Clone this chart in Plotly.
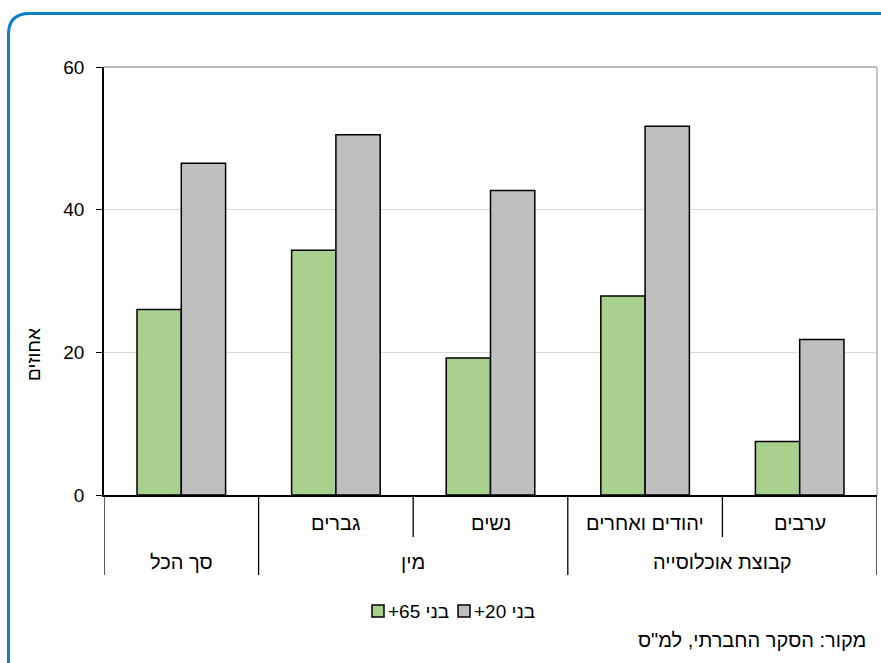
import plotly.graph_objects as go

# Survey results: share (%) by population group, two age bases
categories = ["סך הכל", "גברים", "נשים", "יהודים ואחרים", "ערבים"]
sub_labels = ["", "גברים", "נשים", "יהודים ואחרים", "ערבים"]
group_labels = ["סך הכל", "מין", "קבוצת אוכלוסייה"]
group_centers = [0, 1.5, 3.5]

series_names = ["בני 65+", "בני 20+"]
age65 = [26.0, 34.3, 19.2, 27.9, 7.5]
age20 = [46.5, 50.5, 42.7, 51.7, 21.8]

y_ticks = [0, 20, 40, 60]
y_title = "אחוזים"
source_note = "מקור: הסקר החברתי, למ\"ס"

RLM = "\u200F"
FONT = "Liberation Sans, Arial, sans-serif"
GREEN = "#a9d18e"
GREY = "#bfbfbf"
colors = [GREEN, GREY]

# plot-area geometry in pixels (used to place items below the axis)
W, H = 881, 663
L, R, T, B = 104, 877, 67, 495


def yp(py):
    return (B - py) / (B - T)


def xp(px):
    return (px - L) / (R - L)


fig = go.Figure()
for name, vals, col in zip(series_names, [age65, age20], colors):
    fig.add_trace(go.Bar(
        x=list(range(len(categories))), y=vals, name=name + RLM,
        marker=dict(color=col, line=dict(color="#000000", width=1.5)),
        hovertext=categories, showlegend=False,
    ))

shapes = []
# plot frame: grey top and right edges
shapes.append(dict(type="line", xref="paper", yref="paper", x0=0, x1=1, y0=1, y1=1,
                   line=dict(color="#a6a6a6", width=1.3)))
shapes.append(dict(type="line", xref="paper", yref="paper", x0=1, x1=1, y0=0, y1=1,
                   line=dict(color="#a6a6a6", width=1.3)))
# category dividers under the axis
for xb, full in [(-0.5, True), (0.5, True), (1.5, False), (2.5, True), (3.5, False), (4.5, True)]:
    shapes.append(dict(type="line", xref="x", yref="paper", x0=xb, x1=xb,
                       y0=0, y1=yp(575) if full else yp(537),
                       line=dict(color="#000000", width=1.3)))

# rounded blue frame around the figure
x0f, y0f, rad = 8.5, 13.5, 21
path = (f"M {xp(x0f)},{yp(H + 5)} L {xp(x0f)},{yp(y0f + rad)} "
        f"Q {xp(x0f)},{yp(y0f)} {xp(x0f + rad)},{yp(y0f)} L {xp(W + 5)},{yp(y0f)}")
shapes.append(dict(type="path", xref="paper", yref="paper", path=path,
                   line=dict(color="#0b80c3", width=3)))

annotations = []
for i, lab in enumerate(sub_labels):
    if lab:
        annotations.append(dict(x=i, y=yp(523), xref="x", yref="paper", text=lab,
                                showarrow=False, font=dict(size=20, color="#000"),
                                xanchor="center", yanchor="middle"))
for c, lab in zip(group_centers, group_labels):
    annotations.append(dict(x=c, y=yp(562), xref="x", yref="paper", text=lab,
                            showarrow=False, font=dict(size=20, color="#000"),
                            xanchor="center", yanchor="middle"))
annotations.append(dict(x=xp(33), y=yp(355), xref="paper", yref="paper", text=y_title,
                        textangle=-90, showarrow=False, font=dict(size=19, color="#000"),
                        xanchor="center", yanchor="middle"))
annotations.append(dict(x=xp(868), y=yp(640), xref="paper", yref="paper", text=source_note,
                        showarrow=False, font=dict(size=20, color="#000"),
                        xanchor="right", yanchor="middle"))

# legend: swatch followed closely by its label
legend_y = 611
for name, col, sx in zip(series_names, colors, [378, 464]):
    shapes.append(dict(type="rect", xref="paper", yref="paper",
                       x0=xp(sx - 6), x1=xp(sx + 6), y0=yp(legend_y - 6), y1=yp(legend_y + 6),
                       fillcolor=col, line=dict(color="#000", width=1.5)))
    annotations.append(dict(x=xp(sx + 8), y=yp(legend_y), xref="paper", yref="paper",
                            text=name + RLM, showarrow=False,
                            font=dict(size=19, color="#000"),
                            xanchor="left", yanchor="middle"))

fig.update_layout(
    width=W, height=H,
    margin=dict(l=L, r=W - R, t=T, b=H - B, pad=0),
    paper_bgcolor="white", plot_bgcolor="white",
    font=dict(family=FONT, size=19, color="#000"),
    barmode="group", bargap=0.427, bargroupgap=0,
    showlegend=False,
    xaxis=dict(range=[-0.5, 4.5], showticklabels=False, ticks="", showgrid=False,
               showline=True, linecolor="#000", linewidth=1.5, zeroline=False,
               fixedrange=True),
    yaxis=dict(range=[0, 60], tickvals=y_ticks, ticks="outside", ticklen=6,
               tickcolor="#000", tickwidth=1.3, showline=True, linecolor="#000",
               linewidth=1.5, showgrid=True, gridcolor="#d9d9d9", gridwidth=1,
               zeroline=False, tickfont=dict(size=19), ticklabelstandoff=8),
    shapes=shapes, annotations=annotations,
)

fig.write_html("out.html")
